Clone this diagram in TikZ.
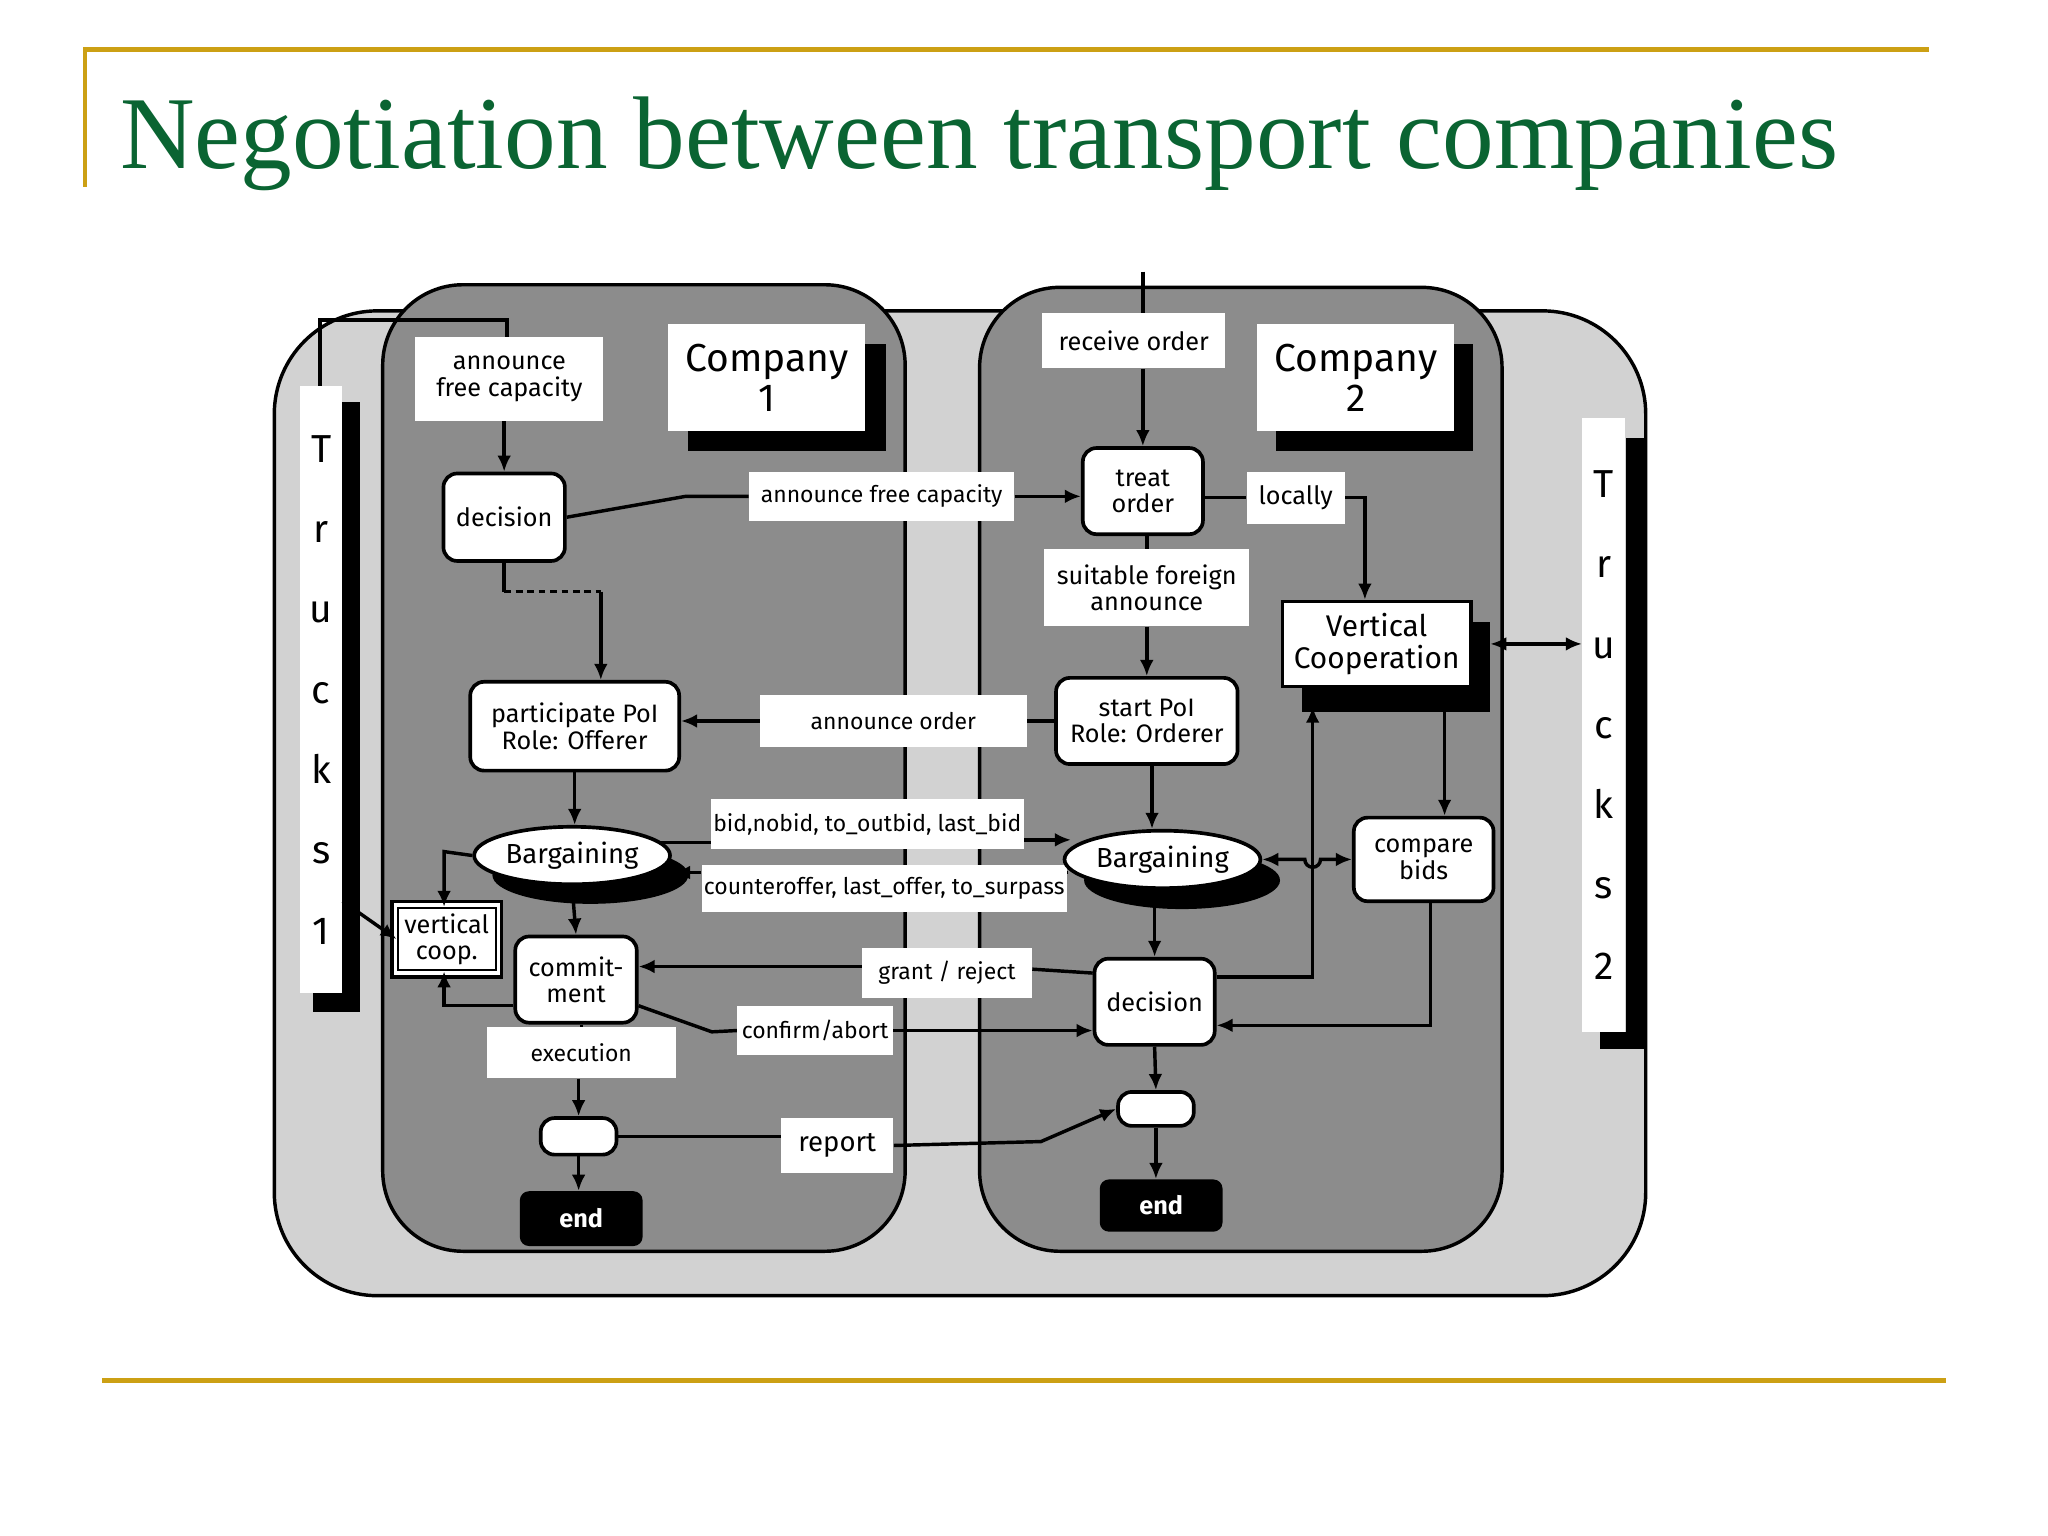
\documentclass[tikz,border=0pt]{standalone}
\usepackage{fontspec}
\setmainfont{Liberation Serif}
\newfontfamily\dsans{Fira Sans}
\usetikzlibrary{shapes.geometric,arrows.meta}
\definecolor{gold}{RGB}{204,160,20}
\definecolor{titlegreen}{RGB}{10,100,50}
\definecolor{panel}{RGB}{140,140,140}
\definecolor{outer}{RGB}{210,210,210}
\begin{document}
\begin{tikzpicture}[x=0.02cm,y=-0.02cm,
  every node/.style={font=\dsans\fontsize{11}{11.5}\selectfont, align=center, inner sep=1pt},
  lab/.style={fill=white, draw=none, font=\dsans\fontsize{10}{10.5}\selectfont},
  rbox/.style={draw=black, line width=1.6pt, fill=white, rounded corners=6pt},
  cbox/.style={fill=white, font=\dsans\fontsize{17}{17.5}\selectfont},
  con/.style={line width=1.5pt},
  arr/.style={con,-{Latex[length=7pt,width=6pt]}},
  darr/.style={con,{Latex[length=7pt,width=6pt]}-{Latex[length=7pt,width=6pt]}}]
\useasboundingbox (0,0) rectangle (1568,1176);
% frame lines
\draw[gold,line width=2pt] (65,143) -- (65,38) -- (1477,38);
\draw[gold,line width=2pt] (78,1057) -- (1490,1057);
\node[font=\fontsize{45}{50}\selectfont, text=titlegreen, anchor=west] (title) at (90,110) {Negotiation between transport companies};
% backgrounds
\draw[line width=1.5pt, fill=outer, rounded corners=45pt] (210,238) rectangle (1260,992);
\draw[line width=1.5pt, fill=panel, rounded corners=35pt] (293,218) rectangle (693,958);
\draw[line width=1.5pt, fill=panel, rounded corners=35pt] (750,220) rectangle (1150,958);
% company boxes
\fill (527,263) rectangle (678,345);
\node[cbox, minimum width=3.02cm, minimum height=1.64cm] (c1) at (587,289) {Company\\1};
\fill (977,263) rectangle (1128,345);
\node[cbox, minimum width=3.02cm, minimum height=1.64cm] (c2) at (1038,289) {Company\\2};
% trucks strips
\fill (262,308) rectangle (276,775); \fill (240,760) rectangle (276,775);
\node[fill=white, minimum width=0.64cm, minimum height=9.3cm, font=\dsans\fontsize{17}{18}\selectfont, inner sep=0pt] (t1) at (246,528) {T\\[17pt]r\\[17pt]u\\[17pt]c\\[17pt]k\\[17pt]s\\[17pt]1};
\fill (1245,335) rectangle (1259,803); \fill (1225,790) rectangle (1259,803);
\node[fill=white, minimum width=0.66cm, minimum height=9.4cm, font=\dsans\fontsize{17}{18}\selectfont, inner sep=0pt] (t2) at (1228,555) {T\\[17pt]r\\[17pt]u\\[17pt]c\\[17pt]k\\[17pt]s\\[17pt]2};
% company 1 nodes
\node[lab, minimum width=2.88cm, minimum height=1.28cm, font=\dsans\fontsize{11}{11.5}\selectfont] (afc) at (390,290) {announce\\free capacity};
\node[rbox, minimum width=1.86cm, minimum height=1.34cm] (d1) at (386,396) {decision};
\node[rbox, minimum width=3.2cm, minimum height=1.36cm] (pp) at (440,556) {participate PoI\\Role: Offerer};
\fill (452,670) ellipse (75 and 22);
\node[ellipse, draw, line width=1.6pt, fill=white, minimum width=3cm, minimum height=0.88cm, inner sep=0pt, font=\dsans\fontsize{12}{13}\selectfont] (b1) at (438,655) {Bargaining};
\draw[line width=1.5pt, fill=white] (300,690) rectangle (384,748);
\node[draw, line width=1pt, fill=white, minimum width=1.5cm, minimum height=0.95cm] (vc1) at (342,719) {vertical\\coop.};
\node[rbox, minimum width=1.86cm, minimum height=1.32cm] (cm) at (441,750) {commit-\\ment};
\node[lab, minimum width=2.9cm, minimum height=0.78cm] (ex) at (445,806) {execution};
\node[rbox, minimum width=1.16cm, minimum height=0.56cm] (s1) at (443,870) {};
\node[fill=black, text=white, rounded corners=4pt, minimum width=1.88cm, minimum height=0.84cm, font=\dsans\bfseries\fontsize{11}{12}\selectfont] (e1) at (445,933) {end};
% labels between
\node[lab, minimum width=4.06cm, minimum height=0.76cm] (lafc) at (675,380) {announce free capacity};
\node[lab, minimum width=4.08cm, minimum height=0.8cm] (lao) at (684,552) {announce order};
\node[lab, minimum width=4.64cm, minimum height=0.76cm] (lbid) at (664,631) {bid,nobid, to\_outbid, last\_bid};
\node[lab, minimum width=5.3cm, minimum height=0.72cm] (lco) at (677,680) {counteroffer, last\_offer, to\_surpass};
\node[lab, minimum width=2.6cm, minimum height=0.76cm] (lgr) at (725,745) {grant / reject};
\node[lab, minimum width=2.38cm, minimum height=0.76cm] (lca) at (624,789) {confirm/abort};
\node[lab, minimum width=1.72cm, minimum height=0.84cm, font=\dsans\fontsize{12}{13}\selectfont] (lrep) at (641,877) {report};
% company 2 nodes
\node[lab, minimum width=2.8cm, minimum height=0.84cm, font=\dsans\fontsize{11}{11.5}\selectfont] (ro) at (868,261) {receive order};
\node[rbox, minimum width=1.84cm, minimum height=1.32cm] (to) at (875,376) {treat\\order};
\node[lab, minimum width=1.5cm, minimum height=0.8cm, font=\dsans\fontsize{11}{11.5}\selectfont] (loc) at (992,381) {locally};
\node[lab, minimum width=3.14cm, minimum height=1.18cm, font=\dsans\fontsize{11}{11.5}\selectfont] (sfa) at (878,450) {suitable foreign\\announce};
\node[rbox, minimum width=2.78cm, minimum height=1.32cm] (sp) at (878,552) {start PoI\\Role: Orderer};
\fill (997,476) rectangle (1141,545);
\node[draw, line width=1.6pt, fill=white, minimum width=2.88cm, minimum height=1.3cm, font=\dsans\fontsize{13}{14}\selectfont] (vc2) at (1054,493) {Vertical\\Cooperation};
\fill (905,674) ellipse (75 and 22);
\node[ellipse, draw, line width=1.6pt, fill=white, minimum width=3cm, minimum height=0.88cm, inner sep=0pt, font=\dsans\fontsize{12}{13}\selectfont] (b2) at (890,658) {Bargaining};
\node[rbox, minimum width=2.14cm, minimum height=1.28cm] (cb) at (1090,658) {compare\\bids};
\node[rbox, minimum width=1.84cm, minimum height=1.32cm] (d2) at (884,767) {decision};
\node[rbox, minimum width=1.16cm, minimum height=0.52cm] (s2) at (885,849) {};
\node[fill=black, text=white, rounded corners=4pt, minimum width=1.88cm, minimum height=0.8cm, font=\dsans\bfseries\fontsize{11}{12}\selectfont] (e2) at (889,923) {end};
% connectors
\coordinate (tp) at (245,245);
\draw[con] (t1.north -| tp) -- (tp) -- (388,245) -- (afc.north -| 388,0);
\draw[arr] (afc.south -| d1) -- (d1.north);
\draw[con] (d1.east) -- (525,380) -- (lafc.west);
\draw[arr] (lafc.east) -- (to.west |- lafc);
\draw[con] (d1.south) -- (386,453);
\draw[con, dashed, dash pattern=on 3pt off 2pt] (386,453) -- (460,453);
\draw[arr] (460,453) -- (pp.north -| 460,0);
\draw[con] (sp.west) -- (lao.east);
\draw[arr] (lao.west) -- (pp.east |- lao);
\draw[arr] (pp.south) -- (b1.north -| pp);
\draw[arr] (b1.west) -- (340,652) -- (vc1.north -| 340,0);
\draw[con] (505,645) -- (lbid.west |- 0,645);
\draw[arr] (lbid.east |- 0,643) -- (820,643);
\draw[con] (818,668) -- (lco.east |- 0,668);
\draw[arr] (lco.west |- 0,668) -- (516,668);
\draw[arr] (b1.south) -- (cm.north);
\draw[arr] (cm.west |- 0,770) -- (340,770) -- (vc1.south -| 340,0);
\draw[arr] (t1.east |- 0,690) -- (vc1.west);
\draw[con] (d2.west |- 0,745) -- (lgr.east |- 0,742);
\draw[arr] (lgr.west |- 0,740) -- (cm.east |- 0,740);
\draw[con] (cm.east |- 0,770) -- (545,790) -- (lca.west);
\draw[arr] (lca.east) -- (d2.west |- lca);
\draw[con] (cm.south -| ex) -- (ex.north);
\draw[arr] (ex.south -| s1) -- (s1.north);
\draw[arr] (s1.south) -- (e1.north -| s1);
\draw[con] (s1.east) -- (lrep.west |- s1);
\draw[arr] (lrep.east) -- (797,874) -- (s2.west);
\draw[con] (875,208) -- (ro.north -| 875,0);
\draw[arr] (ro.south -| to) -- (to.north);
\draw[con] (to.south -| sfa) -- (sfa.north);
\draw[arr] (sfa.south) -- (sp.north -| sfa);
\draw[con] (to.east |- loc) -- (loc.west);
\draw[arr] (loc.east) -- (1045,381) -- (vc2.north -| 1045,0);
\draw[arr] (sp.south -| 882,0) -- (b2.north -| 882,0);
\draw[darr] (b2.east) -- (999,658) arc (180:0:6) -- (cb.west);
\draw[arr] (d2.east |- 0,748) -- (1005,748) -- (1005,541);
\draw[arr] (1106,545) -- (cb.north -| 1106,0);
\draw[arr] (cb.south -| 1095,0) -- (1095,785) -- (d2.east |- 0,785);
\draw[arr] (b2.south -| d2) -- (d2.north);
\draw[arr] (d2.south) -- (s2.north);
\draw[arr] (s2.south) -- (e2.north -| s2);
\draw[darr] (1141,493) -- (t2.west |- 0,493);
\end{tikzpicture}
\end{document}
